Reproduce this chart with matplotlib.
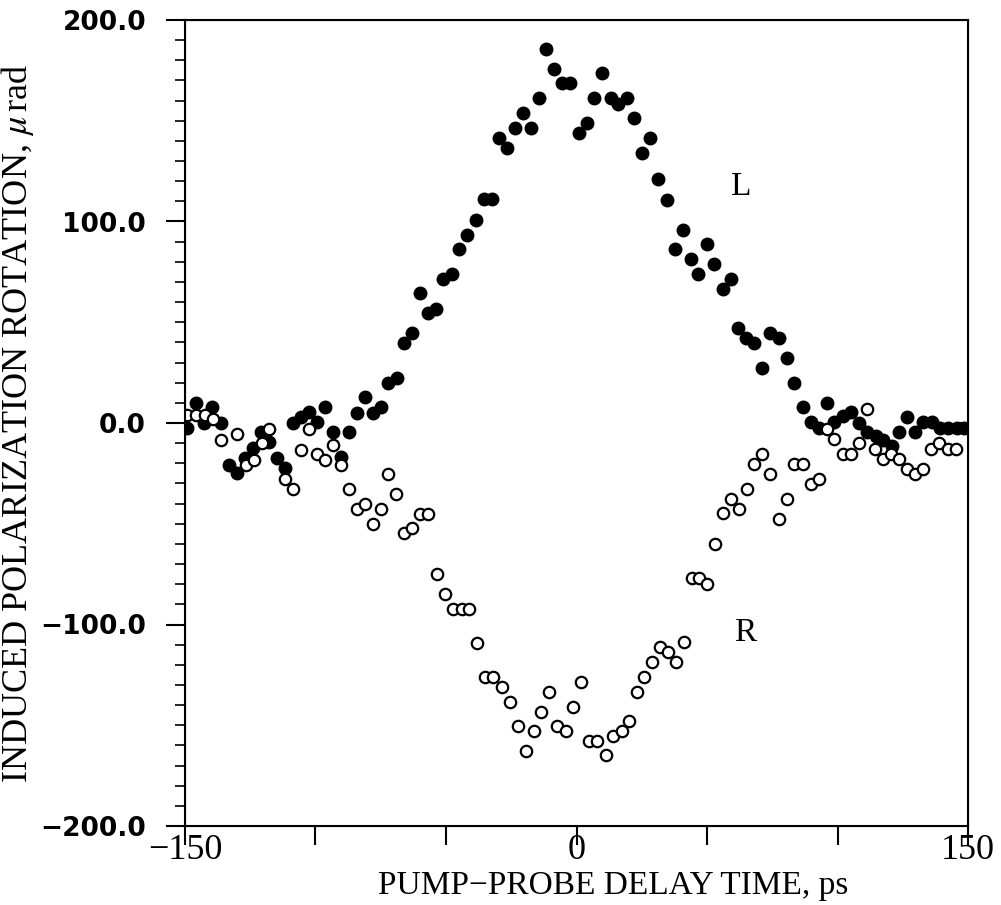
import numpy as np
import matplotlib
matplotlib.use('Agg')
import matplotlib.pyplot as plt
from matplotlib.ticker import MultipleLocator

# L (filled) series
L_delay = [-149.1, -145.8, -142.7, -139.5, -136.2, -133.0, -130.0, -126.9, -123.8, -120.9,
           -117.7, -114.6, -111.6, -108.5, -105.6, -102.4, -99.3, -96.2, -93.2, -90.2,
           -87.0, -84.2, -81.0, -78.1, -74.9, -72.1, -68.9, -66.1, -62.9, -60.0,
           -56.8, -53.8, -51.0, -47.8, -44.9, -41.8, -38.6, -35.4, -32.3, -29.7,
           -26.8, -23.6, -20.4, -17.5, -14.4, -11.7, -8.6, -5.5, -2.3, 0.8,
           3.9, 6.8, 9.9, 13.1, 16.0, 19.2, 22.2, 25.2, 28.2, 31.3,
           34.6, 37.6, 40.7, 43.8, 46.7, 49.9, 52.8, 56.0, 59.1, 62.0,
           64.9, 68.0, 71.2, 74.1, 77.5, 80.5, 83.5, 86.7, 89.7, 92.9,
           95.9, 98.8, 102.0, 105.1, 108.4, 111.4, 114.6, 117.5, 120.8, 123.6,
           126.5, 129.7, 132.9, 136.1, 139.3, 142.5, 145.7, 148.5]
L_rot = [-2.6, 9.8, 0.0, 7.8, 0.2, -20.8, -24.7, -17.5, -12.6, -4.3,
         -9.3, -17.5, -22.5, 0.2, 3.1, 5.6, 0.7, 7.8, -4.3, -16.7,
         -4.3, 5.1, 12.7, 5.1, 8.1, 19.7, 22.1, 39.6, 44.5, 64.4,
         54.4, 56.6, 71.3, 73.9, 86.2, 93.3, 100.7, 111.0, 111.0, 141.3,
         136.3, 146.2, 154.0, 146.2, 161.1, 185.6, 175.7, 168.5, 168.5, 143.7,
         148.7, 161.1, 173.5, 161.1, 158.3, 161.1, 151.2, 133.9, 141.3, 121.1,
         110.7, 86.2, 95.8, 81.2, 73.9, 88.7, 78.9, 66.7, 71.6, 47.0,
         42.0, 39.6, 27.4, 44.8, 42.0, 32.1, 20.0, 7.8, 0.7, -2.6,
         10.1, 0.7, 3.5, 5.6, 0.2, -4.3, -6.5, -8.4, -11.4, -4.3,
         2.8, -4.3, 0.7, 0.7, -2.6, -2.6, -2.6, -2.6]

# R (open) series
R_delay = [-149.1, -145.8, -142.3, -139.2, -136.3, -130.0, -126.6, -123.6, -120.6, -117.7,
           -111.6, -108.5, -105.6, -102.5, -99.5, -96.2, -93.2, -90.2, -87.0, -84.2,
           -81.0, -77.9, -74.9, -72.1, -69.2, -66.1, -63.0, -60.0, -56.9, -53.6,
           -50.4, -47.2, -44.0, -41.1, -38.0, -35.1, -31.9, -28.7, -25.5, -22.6,
           -19.4, -16.3, -13.5, -10.4, -7.4, -4.2, -1.2, 1.7, 4.8, 7.7,
           11.2, 14.1, 17.3, 20.2, 23.1, 26.0, 29.1, 32.0, 35.2, 38.1,
           41.2, 44.1, 47.0, 50.1, 53.1, 56.0, 59.2, 62.3, 65.2, 68.1,
           71.2, 74.3, 77.5, 80.5, 83.5, 86.6, 89.7, 92.9, 96.1, 98.8,
           102.0, 105.1, 108.2, 111.2, 114.4, 117.6, 120.5, 123.6, 126.5, 129.7,
           132.9, 135.7, 139.0, 142.2, 145.4]
R_rot = [4.0, 4.0, 4.0, 1.8, -8.4, -5.5, -20.8, -18.4, -10.1, -3.1,
         -28.0, -33.0, -13.4, -3.1, -15.6, -18.4, -10.9, -20.8, -33.0, -42.9,
         -40.2, -50.3, -42.9, -25.5, -35.4, -54.6, -52.1, -45.2, -45.2, -75.1,
         -84.9, -92.3, -92.3, -92.3, -109.0, -125.9, -125.9, -130.9, -138.3, -150.2,
         -162.6, -152.9, -143.3, -133.3, -150.2, -152.9, -140.8, -128.4, -157.8, -157.8,
         -164.8, -155.3, -152.7, -147.9, -133.3, -126.2, -118.4, -111.3, -113.5, -118.4,
         -108.8, -77.1, -77.1, -79.9, -60.2, -44.8, -37.9, -42.9, -32.9, -20.5,
         -15.6, -25.3, -47.6, -37.7, -20.5, -20.5, -30.3, -27.8, -3.1, -8.1,
         -15.4, -15.4, -10.1, 6.8, -13.1, -18.0, -15.4, -18.0, -23.0, -25.5,
         -23.0, -13.1, -10.1, -13.1, -13.1]

y_ticks = [-200, -100, 0, 100, 200]
y_ticklabels = ['\u2212200.0', '\u2212100.0', '0.0', '100.0', '200.0']
x_ticks = [-150, -100, -50, 0, 50, 100, 150]
x_ticklabels = ['\u2212150', '', '', '0', '', '', '150']

plt.rcParams['mathtext.fontset'] = 'stix'

fig = plt.figure(figsize=(10.01, 9.05), dpi=100)
ax = fig.add_axes([185/1001, 79/905, 783/1001, 806/905])

ax.plot(L_delay, L_rot, 'o', color='black', markersize=9, zorder=3)
ax.plot(R_delay, R_rot, 'o', markerfacecolor='white', markeredgecolor='black',
        markersize=8.2, markeredgewidth=1.6, zorder=4)

ax.set_xlim(-150, 150)
ax.set_ylim(-200, 200)

ax.set_xticks(x_ticks)
ax.set_xticklabels(x_ticklabels, fontfamily='Liberation Serif', fontsize=26)
ax.set_yticks(y_ticks)
ax.set_yticklabels(y_ticklabels, fontfamily='DejaVu Sans', fontweight='bold', fontsize=19)
ax.yaxis.set_minor_locator(MultipleLocator(10))

ax.tick_params(axis='x', direction='out', length=14, width=1.5, pad=-8)
ax.tick_params(axis='y', which='major', direction='out', length=14, width=1.5, pad=14)
ax.tick_params(axis='y', which='minor', direction='out', length=7, width=1.2)

for s in ax.spines.values():
    s.set_linewidth(1.5)

# small inward tick at zero on right side
ax2 = ax.twinx()
ax2.set_ylim(-200, 200)
ax2.set_yticks([0])
ax2.set_yticklabels([''])
ax2.tick_params(axis='y', direction='in', length=8, width=1.5)

ax.set_xlabel('PUMP\u2212PROBE DELAY TIME, ps', fontfamily='Liberation Serif', fontsize=24, labelpad=0)
ax.xaxis.set_label_coords(0.547, -0.055)
ax.set_ylabel('INDUCED POLARIZATION ROTATION, $\\mu\\,$rad', fontfamily='Liberation Serif',
              fontsize=26)
ax.yaxis.set_label_coords(-0.19, 0.5)

ax.text(63, 117, 'L', fontfamily='Liberation Serif', fontsize=24, ha='center', va='center')
ax.text(64.6, -104, 'R', fontfamily='Liberation Serif', fontsize=24, ha='center', va='center')

fig.savefig('out.png', dpi=100)
